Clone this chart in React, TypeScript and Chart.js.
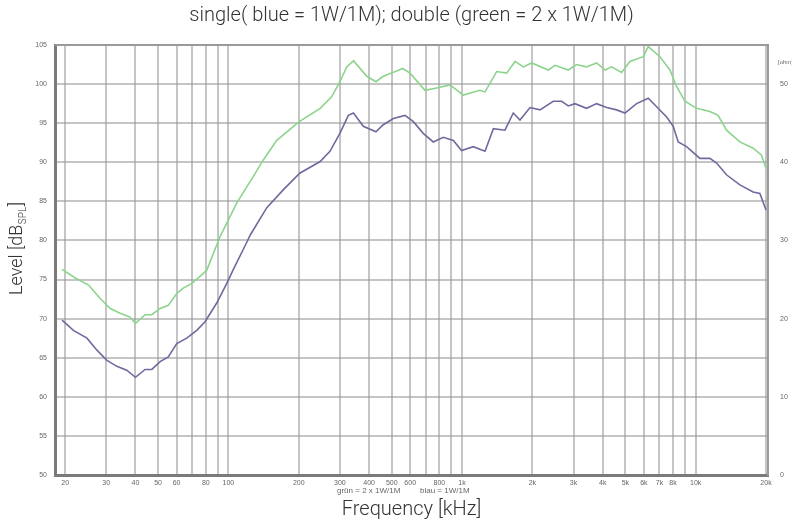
import React, { useEffect, useRef } from "react";
import { Chart, registerables } from "chart.js";

Chart.register(...registerables);

const titleText = "single( blue = 1W/1M); double (green = 2 x 1W/1M)";
const xTitle = "Frequency [kHz]";
const yTitleMain = "Level [dB";
const yTitleSub = "SPL";
const noteGreen = "grün = 2 x 1W/1M";
const noteBlue = "blau = 1W/1M";
const ohmLabel = "[ohm]";

const gridFreqs = [
  20, 30, 40, 50, 60, 70, 80, 90, 100,
  200, 300, 400, 500, 600, 700, 800, 900, 1000,
  2000, 3000, 4000, 5000, 6000, 7000, 8000, 9000, 10000, 20000,
];
const freqLabelValues = [20, 30, 40, 50, 60, 80, 100, 200, 300, 400, 500, 600, 800, 1000, 2000, 3000, 4000, 5000, 6000, 7000, 8000, 10000, 20000];
const freqLabelTexts = ["20", "30", "40", "50", "60", "80", "100", "200", "300", "400", "500", "600", "800", "1k", "2k", "3k", "4k", "5k", "6k", "7k", "8k", "10k", "20k"];

const greenFreq = [19.4, 22.1, 25.2, 28.2, 31.2, 34.4, 37.9, 40, 44, 47, 51, 55.3, 60.1, 64.1, 69.7, 76.9, 80.8, 92.1, 108.6, 127.9, 141, 161, 201, 247, 277, 300, 321, 343, 391, 428, 460, 508, 557, 599, 694, 778, 888, 1012, 1193, 1254, 1407, 1552, 1686, 1829, 1986, 2341, 2498, 2850, 3092, 3412, 3767, 4092, 4367, 4820, 5233, 5965, 6266, 7031, 7760, 8285, 8995, 10090, 11507, 12480, 13550, 15460, 17620, 19140, 20000];
const greenLevel = [76.3, 75.2, 74.3, 72.6, 71.3, 70.7, 70.2, 69.4, 70.5, 70.5, 71.3, 71.7, 73.2, 73.9, 74.5, 75.6, 76.2, 80.5, 84.8, 88.2, 90.3, 92.8, 95.2, 96.9, 98.4, 100.3, 102.2, 103.0, 101.0, 100.3, 101.0, 101.5, 102.0, 101.4, 99.2, 99.5, 99.9, 98.6, 99.2, 99.0, 101.6, 101.4, 102.9, 102.2, 102.7, 101.8, 102.4, 101.8, 102.5, 102.2, 102.7, 101.8, 102.2, 101.5, 102.9, 103.5, 104.8, 103.5, 101.8, 99.7, 97.8, 96.9, 96.5, 96.0, 94.1, 92.6, 91.8, 90.9, 89.2];

const blueFreq = [19.4, 21.7, 24.8, 27.3, 30.1, 33.3, 36.7, 40, 44, 47, 51, 55.3, 60.1, 66.3, 73.2, 79.4, 89.1, 98.4, 105, 120, 124, 146, 172, 202, 247, 272, 300, 326, 343, 378, 428, 460, 508, 570, 619, 682, 753, 831, 918, 995, 1117, 1254, 1362, 1527, 1657, 1770, 1954, 2157, 2456, 2669, 2850, 3043, 3412, 3767, 4159, 4588, 4980, 5587, 6266, 6808, 7513, 8016, 8420, 9145, 10424, 11507, 12290, 13550, 15460, 17620, 18830, 20000];
const blueLevel = [69.8, 68.5, 67.5, 66.0, 64.7, 63.9, 63.4, 62.5, 63.5, 63.5, 64.5, 65.1, 66.8, 67.5, 68.5, 69.6, 72.0, 74.5, 76.3, 79.8, 80.7, 84.2, 86.5, 88.6, 90.1, 91.4, 93.7, 96.0, 96.3, 94.6, 93.9, 94.8, 95.6, 96.0, 95.2, 93.7, 92.6, 93.2, 92.8, 91.5, 92.0, 91.4, 94.3, 94.1, 96.3, 95.4, 97.0, 96.7, 97.8, 97.8, 97.2, 97.5, 96.9, 97.5, 97.0, 96.7, 96.3, 97.5, 98.2, 97.1, 95.8, 94.6, 92.6, 92.0, 90.5, 90.5, 89.9, 88.4, 87.1, 86.2, 86.0, 83.9];

const textPlugin = {
  id: "textPlugin",
  afterDraw(chart: any) {
    const ctx = chart.ctx as CanvasRenderingContext2D;
    const area = chart.chartArea;
    const cx = (area.left + area.right) / 2;
    ctx.save();
    // top frame line
    ctx.strokeStyle = "#9a9a9a";
    ctx.lineWidth = 2;
    ctx.beginPath();
    ctx.moveTo(area.left, area.top);
    ctx.lineTo(area.right, area.top);
    ctx.stroke();

    ctx.fillStyle = "#333";
    ctx.textAlign = "center";
    ctx.textBaseline = "middle";
    ctx.font = "300 20px Roboto";
    ctx.fillText(titleText, cx, 16);
    ctx.fillText(xTitle, cx, 510);

    // y title with subscript
    ctx.save();
    ctx.translate(17, 249);
    ctx.rotate(-Math.PI / 2);
    ctx.textAlign = "left";
    ctx.font = "300 18px Roboto";
    const w1 = ctx.measureText(yTitleMain).width;
    const w3 = ctx.measureText("]").width;
    ctx.font = "300 10px Roboto";
    const w2 = ctx.measureText(yTitleSub).width;
    const x0 = -(w1 + w2 + w3) / 2;
    ctx.font = "300 18px Roboto";
    ctx.fillText(yTitleMain, x0, 0);
    ctx.font = "300 10px Roboto";
    ctx.fillText(yTitleSub, x0 + w1 + 0.5, 6);
    ctx.font = "300 18px Roboto";
    ctx.fillText("]", x0 + w1 + w2 + 1, 0);
    ctx.restore();

    // small notes
    ctx.fillStyle = "#666";
    ctx.font = "8px 'Liberation Sans'";
    ctx.textAlign = "left";
    ctx.fillText(noteGreen, 337, 491);
    ctx.fillText(noteBlue, 420, 491);
    ctx.font = "6px 'Liberation Sans'";
    ctx.fillText(ohmLabel, 778, 62);
    ctx.restore();
  },
};

export default function App() {
  const ref = useRef<HTMLCanvasElement | null>(null);
  useEffect(() => {
    if (!ref.current) return;
    const gridColor = "rgba(150,150,150,0.55)";
    const chart = new Chart(ref.current, {
      type: "line",
      data: {
        datasets: [
          {
            label: "double",
            data: greenFreq.map((f, i) => ({ x: f, y: greenLevel[i] })),
            borderColor: "#8cd48c",
            borderWidth: 1.6,
            pointRadius: 0,
            tension: 0,
            fill: false,
          },
          {
            label: "single",
            data: blueFreq.map((f, i) => ({ x: f, y: blueLevel[i] })),
            borderColor: "#6e6a9e",
            borderWidth: 1.6,
            pointRadius: 0,
            tension: 0,
            fill: false,
          },
        ],
      },
      options: {
        animation: false,
        responsive: false,
        layout: { padding: { top: 45, left: 0, right: 0, bottom: 0 } },
        plugins: {
          legend: { display: false },
          title: { display: false },
          tooltip: { enabled: false },
        },
        scales: {
          x: {
            type: "logarithmic",
            min: 18.1,
            max: 20400,
            afterBuildTicks: (axis: any) => {
              axis.ticks = gridFreqs.map((v) => ({ value: v }));
            },
            afterFit: (axis: any) => {
              axis.height = 56;
            },
            ticks: {
              autoSkip: false,
              maxRotation: 0,
              minRotation: 0,
              padding: 4,
              color: "#666",
              font: { size: 7, family: "'Liberation Sans'" },
              callback: (v: any) => {
                const idx = freqLabelValues.indexOf(Number(v));
                return idx >= 0 ? freqLabelTexts[idx] : "";
              },
            },
            grid: { color: gridColor, lineWidth: 2, drawTicks: false },
            border: { color: "#7a7a7a", width: 3 },
          },
          y: {
            type: "linear",
            position: "left",
            min: 50,
            max: 105,
            afterFit: (axis: any) => {
              axis.width = 55;
            },
            ticks: {
              stepSize: 5,
              padding: 8,
              color: "#666",
              font: { size: 7, family: "'Liberation Sans'" },
            },
            grid: { color: gridColor, lineWidth: 2, drawTicks: false },
            border: { color: "#7a7a7a", width: 3 },
          },
          y1: {
            type: "linear",
            position: "right",
            min: 0,
            max: 55,
            afterFit: (axis: any) => {
              axis.width = 24;
            },
            afterBuildTicks: (axis: any) => {
              axis.ticks = [0, 10, 20, 30, 40, 50].map((v) => ({ value: v }));
            },
            ticks: {
              padding: 12,
              color: "#666",
              font: { size: 7, family: "'Liberation Sans'" },
            },
            grid: { display: false, drawTicks: false },
            border: { color: "#9a9a9a", width: 2 },
          },
        },
      },
      plugins: [textPlugin],
    });
    return () => chart.destroy();
  }, []);
  return (
    <div style={{ position: "absolute", left: 0, top: 0, width: 792, height: 531, background: "#fff" }}>
      <canvas ref={ref} width={792} height={531} style={{ display: "block" }} />
    </div>
  );
}
